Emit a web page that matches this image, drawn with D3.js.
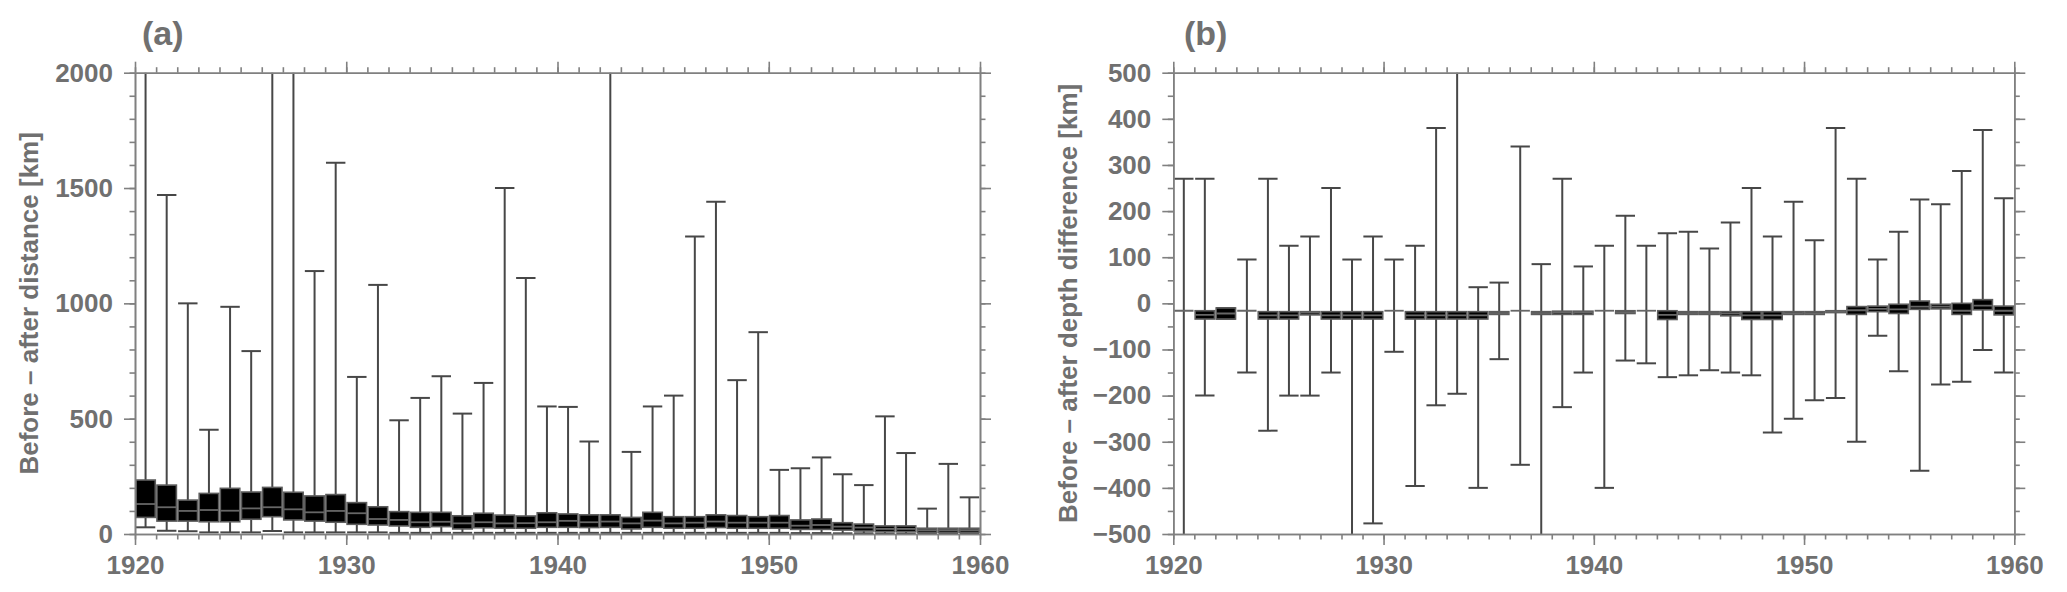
<!DOCTYPE html>
<meta charset="utf-8">
<head>
    <title>Before - after box plots</title>
    <script src="https://cdn.jsdelivr.net/npm/d3@7"></script>
</head>

<style>
    body { margin: 0; background: #fff; }
    svg { font-family: "Liberation Sans", Arial, sans-serif; font-weight: bold; }
    .axis path, .axis line { stroke: #808080; stroke-width: 1.6px; }
    .axis text { fill: #707070; font-size: 26px; font-weight: bold; }
    .title { fill: #707070; font-size: 26px; }
    .panel-label { fill: #707070; font-size: 34px; }
    .whisker { stroke: #474747; stroke-width: 2px; fill: none; }
    .box { fill: #000; stroke: #5c5c5c; stroke-width: 1.6px; }
    .median { stroke: #666; stroke-width: 1.8px; }
</style>

<svg id="chart"></svg>

<script>
    var vWidth = 2067;
    var vHeight = 592;

    // years 1920..1959, each box sits in the middle of its year
    var years = d3.range(1920, 1960);

    // (a) before - after distance [km]
    var distHi  = [2300, 1470, 1000, 452, 985, 793, 2300, 2300, 1140, 1610, 681, 1080, 493, 590, 684, 522, 655, 1500, 1110, 553,
                   551, 401, 2300, 356, 553, 600, 1290, 1440, 667, 875, 278, 285, 332, 259, 212, 510, 351, 110, 304, 159];
    var distQ3  = [234, 212, 147, 176, 198, 182, 202, 181, 165, 171, 136, 118, 97, 94, 94, 79, 90, 82, 78, 92,
                   87, 83, 83, 72, 94, 75, 75, 83, 80, 75, 80, 61, 65, 49, 43, 35, 35, 25, 25, 25];
    var distMed = [130, 116, 100, 104, 101, 111, 116, 107, 94, 100, 90, 65, 61, 51, 53, 46, 51, 46, 47, 51,
                   57, 51, 54, 46, 58, 46, 49, 54, 49, 49, 49, 36, 39, 32, 28, 22, 22, 17, 17, 17];
    var distQ1  = [72, 56, 56, 53, 53, 64, 75, 61, 56, 51, 42, 39, 35, 29, 32, 22, 27, 25, 25, 29,
                   29, 28, 29, 22, 29, 25, 25, 28, 25, 25, 25, 20, 20, 17, 13, 10, 10, 7, 7, 7];
    var distLo  = [29, 14, 12, 7, 7, 7, 13, 7, 7, 7, 7, 7, 5, 5, 5, 5, 5, 5, 5, 5,
                   5, 5, 5, 5, 5, 5, 5, 5, 5, 5, 5, 4, 4, 3, 3, 2, 2, 2, 2, 2];

    // (b) before - after depth difference [km]
    var depthHi  = [270, 270, -10, 95, 270, 125, 145, 250, 95, 145, 95, 125, 380, 560, 35, 45, 340, 85, 270, 80,
                    125, 190, 125, 152, 155, 119, 175, 250, 145, 220, 137, 380, 270, 95, 155, 225, 215, 287, 376, 228];
    var depthQ3  = [-16, -16, -10, -16, -18, -18, -18, -18, -18, -18, -16, -18, -18, -18, -18, -18, -16, -18, -17, -17,
                    -16, -16, -16, -16, -18, -18, -18, -18, -18, -18, -18, -16, -7, -6, -2, 5, -2, 0, 8, -6];
    var depthMed = [-16, -25, -22, -16, -26, -26, -20, -26, -26, -26, -16, -26, -26, -26, -26, -21, -16, -21, -20, -20,
                    -16, -19, -16, -25, -21, -21, -22, -26, -26, -21, -21, -18, -15, -12, -13, -7, -7, -16, -5, -16];
    var depthQ1  = [-16, -34, -34, -16, -34, -34, -25, -34, -34, -34, -16, -34, -34, -34, -34, -24, -16, -24, -24, -24,
                    -16, -22, -16, -35, -24, -24, -27, -35, -35, -24, -24, -20, -24, -18, -22, -13, -12, -24, -14, -25];
    var depthLo  = [-560, -200, -34, -150, -276, -200, -200, -150, -560, -477, -105, -396, -221, -196, -400, -121, -350, -560, -225, -150,
                    -400, -124, -130, -160, -156, -145, -150, -156, -280, -250, -210, -205, -300, -70, -147, -363, -176, -170, -101, -150];

    var xTicks = [1920, 1930, 1940, 1950, 1960];
    var xMinor = d3.range(1920, 1961);
    var distTicks = [0, 500, 1000, 1500, 2000];
    var distMinor = d3.range(0, 2001, 100);
    var depthTicks = d3.range(-500, 501, 100);
    var depthMinor = d3.range(-500, 501, 50);

    var svg = d3.select('#chart').attr('width', vWidth).attr('height', vHeight);

    function drawPanel(p) {
        var g = svg.append('g');
        var x = d3.scaleLinear().domain([1920, 1960]).range([p.left, p.right]);
        var y = d3.scaleLinear().domain(p.yDomain).range([p.bottom, p.top]);
        var boxW = x(1920.92) - x(1920);

        var clipId = 'clip-' + p.name;
        svg.append('clipPath').attr('id', clipId).append('rect')
            .attr('x', p.left).attr('y', p.top)
            .attr('width', p.right - p.left).attr('height', p.bottom - p.top);

        var rows = years.map(function (yr, i) {
            return {year: yr, lo: p.lo[i], q1: p.q1[i], med: p.med[i], q3: p.q3[i], hi: p.hi[i]};
        });

        var marks = g.append('g').attr('clip-path', 'url(#' + clipId + ')');

        // whiskers with caps
        var w = marks.selectAll('g.w').data(rows).enter().append('g').attr('class', 'w');
        w.append('line').attr('class', 'whisker')
            .attr('x1', function (d) { return x(d.year + 0.5); })
            .attr('x2', function (d) { return x(d.year + 0.5); })
            .attr('y1', function (d) { return y(d.lo); })
            .attr('y2', function (d) { return y(d.hi); });
        ['lo', 'hi'].forEach(function (k) {
            w.append('line').attr('class', 'whisker')
                .attr('x1', function (d) { return x(d.year + 0.5) - boxW / 2; })
                .attr('x2', function (d) { return x(d.year + 0.5) + boxW / 2; })
                .attr('y1', function (d) { return y(d[k]); })
                .attr('y2', function (d) { return y(d[k]); });
        });

        // boxes
        marks.selectAll('rect.box').data(rows).enter().append('rect').attr('class', 'box')
            .attr('x', function (d) { return x(d.year + 0.5) - boxW / 2; })
            .attr('width', boxW)
            .attr('y', function (d) { return y(d.q3); })
            .attr('height', function (d) { return y(d.q1) - y(d.q3); });
        marks.selectAll('line.median').data(rows).enter().append('line').attr('class', 'median')
            .attr('x1', function (d) { return x(d.year + 0.5) - boxW / 2; })
            .attr('x2', function (d) { return x(d.year + 0.5) + boxW / 2; })
            .attr('y1', function (d) { return y(d.med); })
            .attr('y2', function (d) { return y(d.med); });

        // frame: major + minor ticks on all four sides, pointing out
        function axis(maker, scale, ticks, size, labels, transform) {
            var a = maker(scale).tickValues(ticks).tickSize(size).tickSizeOuter(0);
            if (labels) a.tickPadding(labels).tickFormat(d3.format('d'));
            else a.tickFormat('');
            g.append('g').attr('class', 'axis').attr('transform', transform).call(a);
        }
        var bt = 'translate(0,' + p.bottom + ')', tp = 'translate(0,' + p.top + ')';
        var lf = 'translate(' + p.left + ',0)', rt = 'translate(' + p.right + ',0)';
        axis(d3.axisBottom, x, xMinor, 5.5, 0, bt);
        axis(d3.axisBottom, x, xTicks, 11, 11, bt);
        axis(d3.axisTop, x, xMinor, 5.5, 0, tp);
        axis(d3.axisTop, x, xTicks, 11, 0, tp);
        axis(d3.axisLeft, y, p.yMinor, 5.5, 0, lf);
        axis(d3.axisLeft, y, p.yTicks, 11, 11, lf);
        axis(d3.axisRight, y, p.yMinor, 5.5, 0, rt);
        axis(d3.axisRight, y, p.yTicks, 11, 0, rt);

        g.append('text').attr('class', 'title')
            .attr('transform', 'translate(' + p.titleX + ',' + ((p.top + p.bottom) / 2) + ') rotate(-90)')
            .attr('text-anchor', 'middle')
            .text(p.title);

        g.append('text').attr('class', 'panel-label')
            .attr('x', p.labelX).attr('y', 45)
            .text(p.label);
    }

    drawPanel({
        name: 'a', label: '(a)', labelX: 142,
        left: 135, right: 980, top: 72.7, bottom: 534,
        yDomain: [0, 2000], yTicks: distTicks, yMinor: distMinor,
        title: 'Before – after distance [km]', titleX: 38,
        lo: distLo, q1: distQ1, med: distMed, q3: distQ3, hi: distHi
    });

    drawPanel({
        name: 'b', label: '(b)', labelX: 1184,
        left: 1173.3, right: 2014.3, top: 72.7, bottom: 534,
        yDomain: [-500, 500], yTicks: depthTicks, yMinor: depthMinor,
        title: 'Before – after depth difference [km]', titleX: 1077,
        lo: depthLo, q1: depthQ1, med: depthMed, q3: depthQ3, hi: depthHi
    });
</script>
